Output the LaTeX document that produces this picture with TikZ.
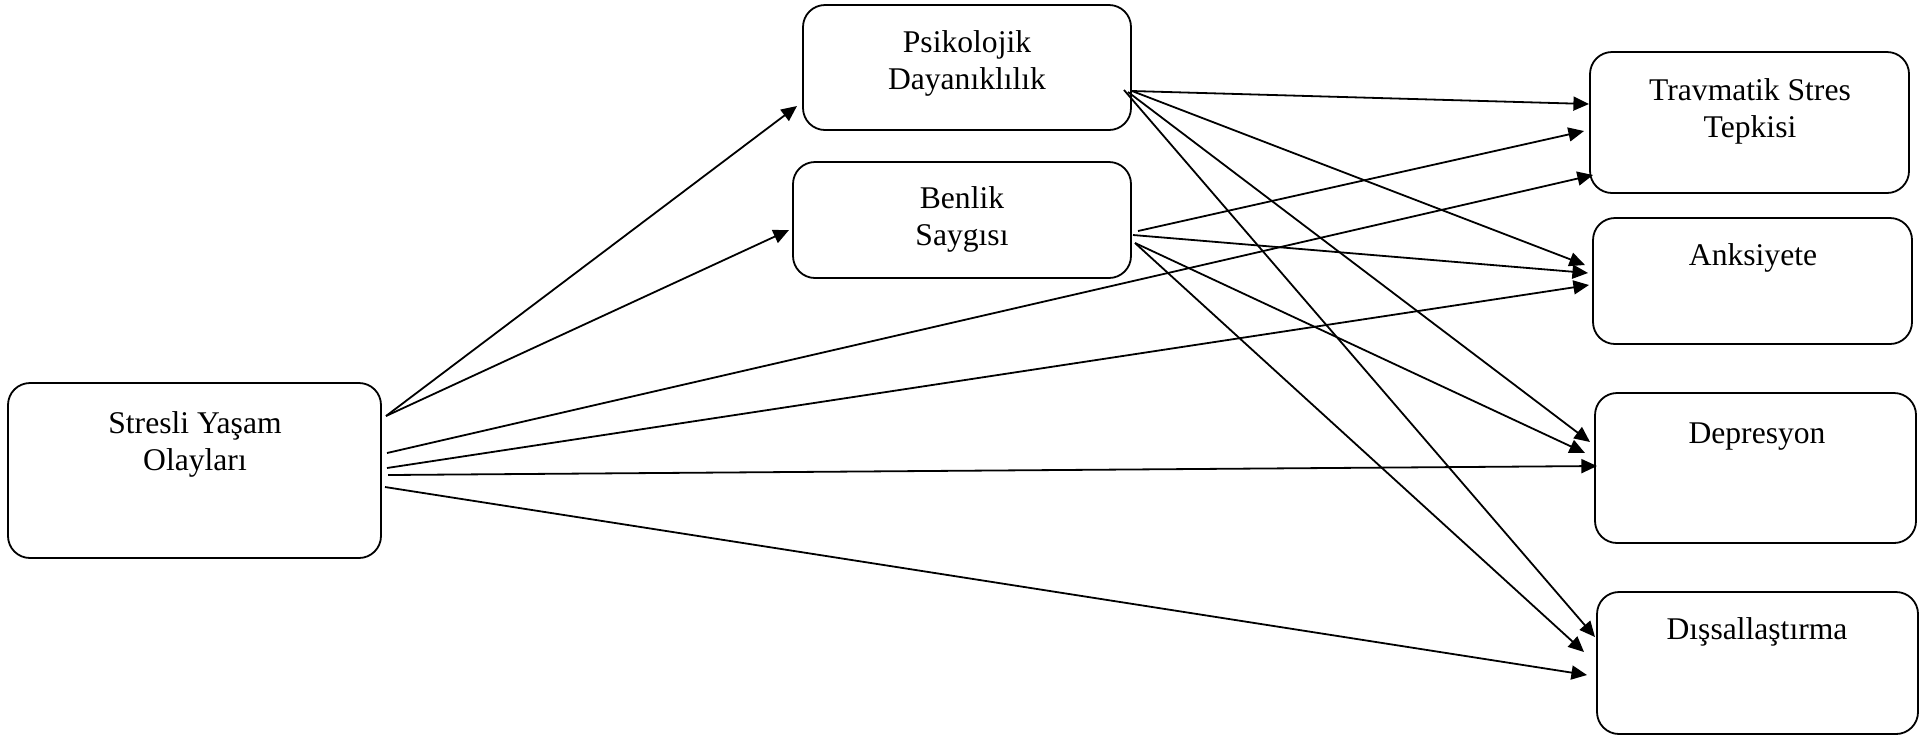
\documentclass[tikz,border=0pt]{standalone}
\usepackage{fontspec}
\setmainfont{Liberation Serif}
\usetikzlibrary{arrows.meta}
\tikzset{
  box/.style={draw, line width=0.9pt, rounded corners=11pt, inner sep=0pt, outer sep=0pt},
  lbl/.style={inner sep=0pt, outer sep=0pt, align=center, font=\fontsize{15.8pt}{18.3pt}\selectfont},
  arr/.style={line width=0.9pt, -{Triangle[length=7.8pt,width=7pt]}}
}
\begin{document}
\begin{tikzpicture}[x=0.5pt,y=-0.5pt]
\useasboundingbox (0,0) rectangle (1925,736);

% boxes
\node[box, minimum width=186.5pt, minimum height=87.5pt] (s) at (194.5,470.5) {};
\node[box, minimum width=164pt, minimum height=62.5pt] (p) at (967,67.5) {};
\node[box, minimum width=169pt, minimum height=58pt] (b) at (962,220) {};
\node[box, minimum width=159.5pt, minimum height=70.5pt] (t) at (1749.5,122.5) {};
\node[box, minimum width=159.5pt, minimum height=63pt] (a) at (1752.5,281) {};
\node[box, minimum width=160.5pt, minimum height=75pt] (d) at (1755.5,468) {};
\node[box, minimum width=160.5pt, minimum height=71pt] (x) at (1757.5,663) {};

% labels (base anchor sits on the last line)
\node[lbl, anchor=base] (s-t) at (195,470) {Stresli Yaşam\\Olayları};
\node[lbl, anchor=base] (p-t) at (967,89) {Psikolojik\\Dayanıklılık};
\node[lbl, anchor=base] (b-t) at (962,245) {Benlik\\Saygısı};
\node[lbl, anchor=base] (t-t) at (1750,137) {Travmatik Stres\\Tepkisi};
\node[lbl, anchor=base] (a-t) at (1753,265) {Anksiyete};
\node[lbl, anchor=base] (d-t) at (1757,443) {Depresyon};
\node[lbl, anchor=base] (x-t) at (1757,639) {Dışsallaştırma};

% paths from the stressor box
\draw[arr] ([shift={(5,-54.5)}]s.east) -- ([shift={(-6,38.5)}]p.west);
\draw[arr] ([shift={(5,-54.5)}]s.east) -- ([shift={(-4,10)}]b.west);
\draw[arr] ([shift={(6,-17.5)}]s.east) -- ([shift={(3,52.5)}]t.west);
\draw[arr] ([shift={(6,-2.5)}]s.east) -- ([shift={(-4,4)}]a.west);
\draw[arr] ([shift={(7,4.5)}]s.east) -- ([shift={(2,-2)}]d.west);
\draw[arr] ([shift={(4,16.5)}]s.east) -- ([shift={(-10,12)}]x.west);

% paths from resilience
\draw[arr] ([shift={(1,23.5)}]p.east) -- ([shift={(-1,-18.5)}]t.west);
\draw[arr] ([shift={(1,23.5)}]p.east) -- ([shift={(-8,-16)}]a.west);
\draw[arr] ([shift={(-3,24.5)}]p.east) -- ([shift={(-5,-26)}]d.west);
\draw[arr] ([shift={(-7,22.5)}]p.east) -- ([shift={(-2,-26)}]x.west);

% paths from self-esteem
\draw[arr] ([shift={(7,11)}]b.east) -- ([shift={(-6,8.5)}]t.west);
\draw[arr] ([shift={(2,15)}]b.east) -- ([shift={(-5,-8)}]a.west);
\draw[arr] ([shift={(4,23)}]b.east) -- ([shift={(-10,-15)}]d.west);
\draw[arr] ([shift={(4,23)}]b.east) -- ([shift={(-13,-11)}]x.west);
\end{tikzpicture}
\end{document}
